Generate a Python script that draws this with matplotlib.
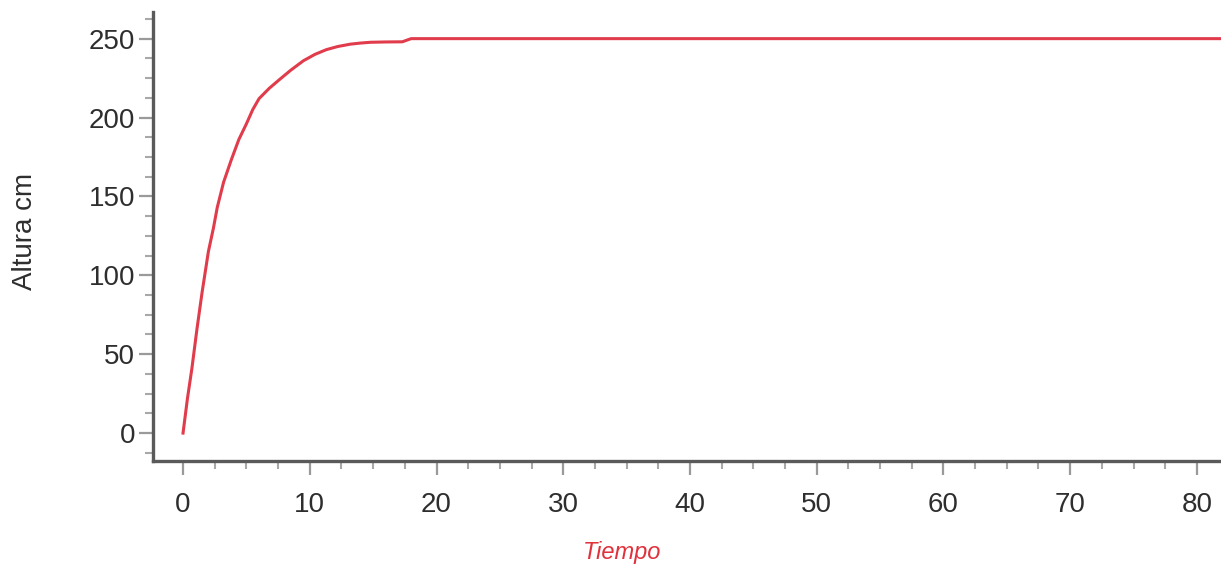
import matplotlib
matplotlib.use("Agg")
import matplotlib.pyplot as plt
from matplotlib.ticker import MultipleLocator

tiempo = [0, 0.35, 0.7, 1.1, 1.5, 2.0, 2.4, 2.7, 3.2, 3.8, 4.4, 5.0, 5.5, 6.0, 6.8, 7.6, 8.5, 9.5, 10.4, 11.3, 12.2, 13.2, 14.0, 14.8, 16.0, 17.3, 18.0, 82]
altura = [0, 22, 41, 66, 89, 115, 130, 143, 159, 173, 186, 196, 205, 212, 218.5, 224, 230, 236, 240, 243, 245, 246.5, 247.2, 247.7, 247.9, 248.0, 250, 250]

x_major = [0, 10, 20, 30, 40, 50, 60, 70, 80]
y_major = [0, 50, 100, 150, 200, 250]

plt.rcParams['font.family'] = ['Liberation Sans', 'DejaVu Sans']

fig = plt.figure(figsize=(12.21, 5.78), dpi=100)
ax = fig.add_axes([0.1253, 0.2024, 0.8747, 0.7766])

ax.plot(tiempo, altura, color='#e03c4c', lw=2.2)

ax.set_xlim(-2.37, 81.9)
ax.set_ylim(-17.7, 266.8)
ax.set_xticks(x_major)
ax.set_yticks(y_major)
ax.xaxis.set_minor_locator(MultipleLocator(2.5))
ax.yaxis.set_minor_locator(MultipleLocator(12.5))

for s in ['top', 'right']:
    ax.spines[s].set_visible(False)
for s in ['left', 'bottom']:
    ax.spines[s].set_color('#5a5a5a')
    ax.spines[s].set_linewidth(2.4)

ax.tick_params(which='major', direction='out', length=10, width=1.6, color='#9a9a9a',
               labelsize=20, labelcolor='#2e2e2e')
ax.tick_params(axis='x', which='major', pad=12)
ax.tick_params(axis='y', which='major', pad=3)
ax.tick_params(which='minor', direction='out', length=5.5, width=1.5, color='#a8a8a8')

ax.set_xlabel('Tiempo', fontsize=17, style='italic', color='#e0323c', va='top')
ax.xaxis.set_label_coords(0.439, -0.178)
ax.set_ylabel('Altura cm', fontsize=20, color='#2e2e2e')
ax.yaxis.set_label_coords(-0.108, 0.512)

fig.savefig('out.png', dpi=100)
